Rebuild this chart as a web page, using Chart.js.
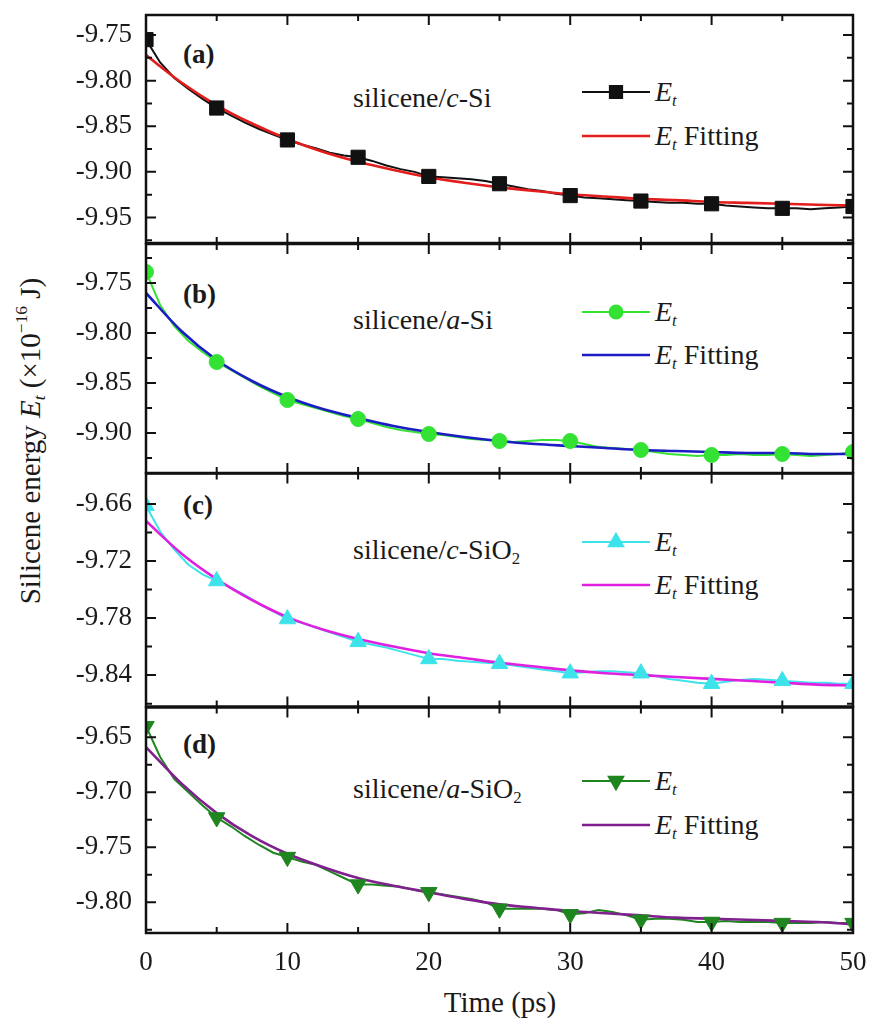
<!DOCTYPE html>
<html>
<head>
<meta charset="utf-8">
<script src="https://cdn.jsdelivr.net/npm/chart.js@4.4.0/dist/chart.umd.min.js"></script>
<style>
  body { margin: 0; background: #fff; width: 871px; height: 1027px; position: relative; overflow: hidden;
         font-family: "Liberation Serif", "Times New Roman", serif; color: #1a1a1a; }
  canvas { position: absolute; left: 0; }
  .t { position: absolute; white-space: nowrap; line-height: 1; transform: translateY(-50%); }
  .lab { font-weight: bold; font-size: 27px; }
  .ann { font-size: 28px; }
  .leg { font-size: 28px; }
  sub { font-size: 60%; vertical-align: -0.3em; line-height: 0; }
  sup { font-size: 60%; vertical-align: 0.7em; line-height: 0; }
</style>
</head>
<body>

<div class="t lab" style="left:183px; top:54px">(a)</div>
<div class="t lab" style="left:183px; top:294px">(b)</div>
<div class="t lab" style="left:183px; top:505px">(c)</div>
<div class="t lab" style="left:183px; top:744px">(d)</div>

<div class="t ann" style="left:353px; top:98px">silicene/<i>c</i>-Si</div>
<div class="t ann" style="left:353px; top:320px">silicene/<i>a</i>-Si</div>
<div class="t ann" style="left:353px; top:550px">silicene/<i>c</i>-SiO<sub>2</sub></div>
<div class="t ann" style="left:353px; top:789px">silicene/<i>a</i>-SiO<sub>2</sub></div>

<div class="t leg" style="left:655px; top:92px"><i>E</i><sub><i>t</i></sub></div>
<div class="t leg" style="left:655px; top:136px"><i>E</i><sub><i>t</i></sub> Fitting</div>
<div class="t leg" style="left:655px; top:312px"><i>E</i><sub><i>t</i></sub></div>
<div class="t leg" style="left:655px; top:355px"><i>E</i><sub><i>t</i></sub> Fitting</div>
<div class="t leg" style="left:655px; top:542px"><i>E</i><sub><i>t</i></sub></div>
<div class="t leg" style="left:655px; top:585px"><i>E</i><sub><i>t</i></sub> Fitting</div>
<div class="t leg" style="left:655px; top:781px"><i>E</i><sub><i>t</i></sub></div>
<div class="t leg" style="left:655px; top:825px"><i>E</i><sub><i>t</i></sub> Fitting</div>

<div class="t" style="left:500px; top:1002px; font-size:29px; transform:translate(-50%,-50%)">Time (ps)</div>
<div class="t" style="left:30px; top:441px; font-size:29px; transform:translate(-50%,-50%) rotate(-90deg)">Silicene energy <i>E</i><sub><i>t</i></sub> (×10<sup>−16</sup> J)</div>

<script>
// time axis
const rawTime = [0,1,2,3,4,5,6,7,8,9,10,11,12,13,14,15,16,17,18,19,20,21,22,23,24,25,
                 26,27,28,29,30,31,32,33,34,35,36,37,38,39,40,41,42,43,44,45,46,47,48,49,50];
const fitTime = [0,2.5,5,7.5,10,12.5,15,17.5,20,22.5,25,27.5,30,32.5,35,37.5,40,42.5,45,47.5,50];
const xMajor = [0,10,20,30,40,50];
const xMinor = [5,15,25,35,45];

// (a) silicene/c-Si
const rawA = [-9.755,-9.780,-9.797,-9.809,-9.820,-9.830,-9.838,-9.846,-9.853,-9.859,-9.865,
  -9.870,-9.874,-9.879,-9.882,-9.884,-9.888,-9.893,-9.897,-9.900,-9.905,
  -9.906,-9.907,-9.908,-9.910,-9.913,-9.916,-9.919,-9.921,-9.924,-9.926,
  -9.928,-9.929,-9.930,-9.931,-9.932,-9.933,-9.934,-9.934,-9.935,-9.935,
  -9.937,-9.938,-9.939,-9.940,-9.940,-9.940,-9.941,-9.940,-9.939,-9.938];
const fitA = [-9.772,-9.802,-9.827,-9.847,-9.864,-9.878,-9.889,-9.898,-9.906,-9.912,-9.917,
  -9.921,-9.9245,-9.927,-9.9296,-9.931,-9.933,-9.934,-9.935,-9.936,-9.937];
const yTicksA = [-9.75,-9.80,-9.85,-9.90,-9.95];
const yLabelsA = ['-9.75','-9.80','-9.85','-9.90','-9.95'];
const yMinorA = [-9.775,-9.825,-9.875,-9.925,-9.975];

// (b) silicene/a-Si
const rawB = [-9.739,-9.772,-9.793,-9.808,-9.819,-9.829,-9.837,-9.845,-9.853,-9.860,-9.867,
  -9.871,-9.875,-9.879,-9.883,-9.886,-9.890,-9.894,-9.897,-9.899,-9.901,
  -9.902,-9.904,-9.906,-9.907,-9.908,-9.909,-9.908,-9.907,-9.907,-9.908,
  -9.911,-9.914,-9.915,-9.916,-9.917,-9.919,-9.921,-9.922,-9.923,-9.922,
  -9.922,-9.921,-9.922,-9.922,-9.921,-9.922,-9.923,-9.922,-9.921,-9.919];
const fitB = [-9.760,-9.798,-9.827,-9.848,-9.864,-9.876,-9.885,-9.893,-9.899,-9.904,-9.908,
  -9.911,-9.913,-9.915,-9.917,-9.918,-9.919,-9.920,-9.920,-9.921,-9.921];
const yTicksB = [-9.75,-9.80,-9.85,-9.90];
const yLabelsB = ['-9.75','-9.80','-9.85','-9.90'];
const yMinorB = [-9.725,-9.775,-9.825,-9.875,-9.925];

// (c) silicene/c-SiO2
const rawC = [-9.662,-9.689,-9.708,-9.724,-9.734,-9.741,-9.748,-9.756,-9.765,-9.773,-9.781,
  -9.785,-9.790,-9.795,-9.800,-9.805,-9.808,-9.811,-9.815,-9.819,-9.823,
  -9.823,-9.825,-9.826,-9.827,-9.828,-9.830,-9.832,-9.834,-9.836,-9.838,
  -9.837,-9.836,-9.836,-9.837,-9.838,-9.841,-9.844,-9.846,-9.848,-9.849,
  -9.847,-9.845,-9.844,-9.845,-9.846,-9.847,-9.848,-9.848,-9.849,-9.849];
const fitC = [-9.678,-9.712,-9.739,-9.761,-9.779,-9.792,-9.802,-9.810,-9.817,-9.822,-9.827,
  -9.831,-9.835,-9.838,-9.840,-9.842,-9.844,-9.846,-9.848,-9.850,-9.851];
const yTicksC = [-9.66,-9.72,-9.78,-9.84];
const yLabelsC = ['-9.66','-9.72','-9.78','-9.84'];
const yMinorC = [-9.69,-9.75,-9.81,-9.87];

// (d) silicene/a-SiO2
const rawD = [-9.640,-9.668,-9.688,-9.700,-9.712,-9.723,-9.731,-9.740,-9.748,-9.755,-9.759,
  -9.763,-9.766,-9.772,-9.778,-9.784,-9.784,-9.785,-9.786,-9.789,-9.791,
  -9.793,-9.795,-9.797,-9.800,-9.806,-9.806,-9.806,-9.806,-9.807,-9.811,
  -9.810,-9.807,-9.809,-9.812,-9.816,-9.815,-9.815,-9.816,-9.818,-9.818,
  -9.817,-9.818,-9.818,-9.818,-9.819,-9.819,-9.819,-9.818,-9.819,-9.819];
const fitD = [-9.659,-9.692,-9.719,-9.740,-9.756,-9.768,-9.778,-9.785,-9.791,-9.797,-9.802,
  -9.805,-9.808,-9.810,-9.812,-9.814,-9.815,-9.816,-9.817,-9.818,-9.820];
const yTicksD = [-9.65,-9.70,-9.75,-9.80];
const yLabelsD = ['-9.65','-9.70','-9.75','-9.80'];
const yMinorD = [-9.675,-9.725,-9.775,-9.825];

const panels = [
  { top: 14,  bottom: 244, min: -9.978, max: -9.728, raw: rawA, fit: fitA, ticks: yTicksA, labels: yLabelsA, minor: yMinorA,
    rawColor: '#111111', fitColor: '#e31c1c', marker: 'rect', radius: 10, rot: 0, leg: [92, 136] },
  { top: 244, bottom: 473, min: -9.940, max: -9.711, raw: rawB, fit: fitB, ticks: yTicksB, labels: yLabelsB, minor: yMinorB,
    rawColor: '#33e233', fitColor: '#1c1cc4', marker: 'circle', radius: 7.5, rot: 0, leg: [312, 355] },
  { top: 473, bottom: 707, min: -9.873, max: -9.628, raw: rawC, fit: fitC, ticks: yTicksC, labels: yLabelsC, minor: yMinorC,
    rawColor: '#3de3ea', fitColor: '#e020e0', marker: 'triangle', radius: 9.5, rot: 0, leg: [542, 585] },
  { top: 707, bottom: 933, min: -9.828, max: -9.623, raw: rawD, fit: fitD, ticks: yTicksD, labels: yLabelsD, minor: yMinorD,
    rawColor: '#1f851f', fitColor: '#80208f', marker: 'triangle', radius: 9.5, rot: 180, leg: [781, 825], showX: true }
];

const tickFont = { family: "'Liberation Serif', serif", size: 27 };

function pairs(xs, ys) {
  return xs.map((x, i) => ({ x: x, y: ys[i] }));
}

function makePanel(p) {
  const cv = document.createElement('canvas');
  const cTop = p.top - 10;
  const cH = (p.bottom - p.top) + 10 + (p.showX ? 70 : 10);
  cv.width = 871;
  cv.height = cH;
  cv.style.width = '871px';
  cv.style.height = cH + 'px';
  cv.style.top = cTop + 'px';
  document.body.appendChild(cv);

  // frame, inward ticks on all sides, legend samples
  const framePlugin = {
    id: 'frame',
    afterDatasetsDraw(chart) {
      const { ctx, chartArea: a, scales: { x, y } } = chart;
      ctx.save();
      ctx.strokeStyle = '#111';
      ctx.lineWidth = 2;
      ctx.beginPath();
      const hTick = (v, len) => {
        const px = x.getPixelForValue(v);
        ctx.moveTo(px, a.bottom); ctx.lineTo(px, a.bottom - len);
        ctx.moveTo(px, a.top); ctx.lineTo(px, a.top + len);
      };
      const vTick = (v, len) => {
        const py = y.getPixelForValue(v);
        if (py < a.top + 1 || py > a.bottom - 1) return;
        ctx.moveTo(a.left, py); ctx.lineTo(a.left + len, py);
        ctx.moveTo(a.right, py); ctx.lineTo(a.right - len, py);
      };
      xMajor.forEach(v => hTick(v, 10));
      xMinor.forEach(v => hTick(v, 6));
      p.ticks.forEach(v => vTick(v, 10));
      p.minor.forEach(v => vTick(v, 6));
      ctx.stroke();
      ctx.lineWidth = 2.5;
      ctx.strokeRect(a.left, a.top, a.right - a.left, a.bottom - a.top);

      // legend samples
      const ly1 = p.leg[0] - cTop, ly2 = p.leg[1] - cTop;
      ctx.lineWidth = 2.2;
      ctx.strokeStyle = p.rawColor;
      ctx.beginPath(); ctx.moveTo(582, ly1); ctx.lineTo(650, ly1); ctx.stroke();
      ctx.fillStyle = p.rawColor;
      Chart.helpers.drawPoint(ctx, { pointStyle: p.marker, radius: p.radius * 0.85, rotation: p.rot, borderWidth: 1 }, 616, ly1);
      ctx.fill();
      ctx.strokeStyle = p.fitColor;
      ctx.lineWidth = 2.5;
      ctx.beginPath(); ctx.moveTo(582, ly2); ctx.lineTo(650, ly2); ctx.stroke();
      ctx.restore();
    }
  };

  new Chart(cv, {
    type: 'line',
    data: {
      datasets: [
        { label: 'E_t', data: pairs(rawTime, p.raw), showLine: false,
          pointStyle: p.marker, rotation: p.rot,
          pointRadius: c => (c.raw && c.raw.x % 5 === 0) ? p.radius : 0,
          pointBackgroundColor: p.rawColor, pointBorderColor: p.rawColor, pointBorderWidth: 1, clip: 0 },
        { label: 'E_t Fitting', data: pairs(fitTime, p.fit), borderColor: p.fitColor, borderWidth: 2.6,
          pointRadius: 0, cubicInterpolationMode: 'monotone', clip: 0 },
        { label: 'E_t line', data: pairs(rawTime, p.raw), borderColor: p.rawColor, borderWidth: 2,
          pointRadius: 0, clip: 0 }
      ]
    },
    options: {
      responsive: false,
      maintainAspectRatio: false,
      animation: false,
      events: [],
      layout: { padding: { top: 10, right: 18, bottom: p.showX ? 0 : 10, left: 0 } },
      plugins: { legend: { display: false }, tooltip: { enabled: false } },
      scales: {
        x: {
          type: 'linear', min: 0, max: 50, display: !!p.showX,
          afterBuildTicks: s => { s.ticks = xMajor.map(v => ({ value: v })); },
          afterFit: s => {
            s.height = p.showX ? 70 : 0;
            s.paddingLeft = 0; s.paddingRight = 0;
          },
          grid: { display: false, drawTicks: false }, border: { display: false },
          ticks: { font: tickFont, color: '#1a1a1a', padding: 14, maxRotation: 0, autoSkip: false,
                   callback: v => String(v) }
        },
        y: {
          min: p.min, max: p.max,
          afterBuildTicks: s => { s.ticks = p.ticks.map(v => ({ value: v })); },
          afterFit: s => {
            s.width = 146;
            s.paddingTop = 0; s.paddingBottom = 0;
          },
          grid: { display: false, drawTicks: false }, border: { display: false },
          ticks: { font: tickFont, color: '#1a1a1a', padding: 14, callback: (v, i) => p.labels[i] }
        }
      }
    },
    plugins: [framePlugin]
  });
}

panels.forEach(makePanel);
</script>
</body>
</html>
